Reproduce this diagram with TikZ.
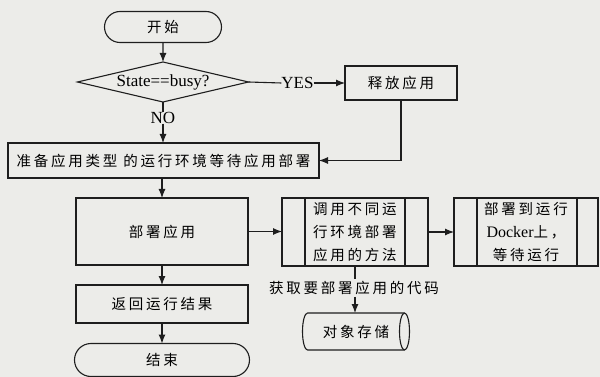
\documentclass[tikz,border=0pt]{standalone}
\usepackage{fontspec}
\setmainfont{Liberation Serif}
\newfontfamily\cjk[LetterSpace=19]{Noto Sans CJK SC}
\usetikzlibrary{shapes.geometric,shapes.misc,arrows.meta}
\definecolor{paper}{RGB}{236,236,233}
\definecolor{ink}{RGB}{30,30,30}
\begin{document}
\begin{tikzpicture}[x=1pt,y=-1pt,
  every node/.style={inner sep=0pt, outer sep=0pt},
  box/.style={draw=ink, line width=1.1pt, rectangle},
  term/.style={draw=ink, line width=1.1pt, rounded rectangle},
  zh/.style={font=\cjk\fontsize{14.5}{23}\selectfont},
  en/.style={font=\fontsize{17}{20}\selectfont},
  conn/.style={draw=ink, line width=1.1pt},
  arr/.style={conn, -{Latex[length=9pt,width=7pt]}}]
\fill[paper] (0,0) rectangle (600,377);
\useasboundingbox (0,0) rectangle (600,377);

\node[term, zh, minimum width=117pt, minimum height=31pt] (start) at (163,27) {开始};
\node[draw=ink, line width=1.1pt, diamond, aspect=4.3, minimum width=171pt, minimum height=40pt, en] (dec) at (163,82) {State==busy?};
\node[en] (yes) at (297.5,83) {YES};
\node[box, zh, minimum width=112pt, minimum height=34pt] (rel) at (401,83) {释放应用};
\node[en] (no) at (163,118) {NO};
\node[box, zh, minimum width=311pt, minimum height=35pt] (prep) at (163.5,160.5) {准备应用类型 的运行环境等待应用部署};
\node[box, zh, minimum width=172pt, minimum height=67pt] (dep) at (162,231.5) {部署应用};
\node[box, zh, minimum width=172pt, minimum height=38pt] (ret) at (162,304) {返回运行结果};
\node[term, zh, minimum width=175pt, minimum height=33pt] (end) at (162,360) {结束};
\node[box, zh, align=center, minimum width=146pt, minimum height=68pt] (p1) at (355,232) {调用不同运\\行环境部署\\应用的方法};
\node[box, zh, align=center, minimum width=144pt, minimum height=68pt] (p2) at (526,232) {部署到运行\\{\rmfamily\fontsize{16}{23}\selectfont Docker}上，\\等待运行};
\node[zh, inner sep=2pt] (get) at (354,288) {获取要部署应用的代码};
\node[zh, minimum width=107pt, minimum height=37pt] (cyl) at (356,331.5) {对象存储};

% cylinder outline
\draw[conn] ([xshift=5pt]cyl.north west) -- ([xshift=-5pt]cyl.north east)
  arc[start angle=90, end angle=-90, x radius=5pt, y radius=18.5pt]
  -- ([xshift=5pt]cyl.south west)
  arc[start angle=270, end angle=90, x radius=5pt, y radius=18.5pt] -- cycle;
\draw[conn] ([xshift=-5pt]cyl.south east)
  arc[start angle=-90, end angle=-270, x radius=5pt, y radius=18.5pt];

\draw[conn] ([xshift=23pt]p1.north west) -- ([xshift=23pt]p1.south west);
\draw[conn] ([xshift=-23pt]p1.north east) -- ([xshift=-23pt]p1.south east);
\draw[conn] ([xshift=23pt]p2.north west) -- ([xshift=23pt]p2.south west);
\draw[conn] ([xshift=-21pt]p2.north east) -- ([xshift=-21pt]p2.south east);

\draw[arr] (start) -- (dec);
\draw[conn] (dec.east) -- (yes.west);
\draw[arr] (yes.east) -- (rel.west);
\draw[conn] (dec.south) -- (no.north);
\draw[arr] (no.south) -- (no.south |- prep.north);
\draw[arr] (rel.south) |- (prep.east);
\draw[arr] (dep.north |- prep.south) -- (dep.north);
\draw[arr] (dep) -- (ret);
\draw[arr] (ret) -- (end);
\draw[arr] (dep.east) -- (dep.east -| p1.west);
\draw[arr] (p1.east) -- (p1.east -| p2.west);
\draw[conn] (p1.south) -- (p1.south |- get.north);
\draw[arr] (p1.south |- get.south) -- (p1.south |- cyl.north);
\end{tikzpicture}
\end{document}
